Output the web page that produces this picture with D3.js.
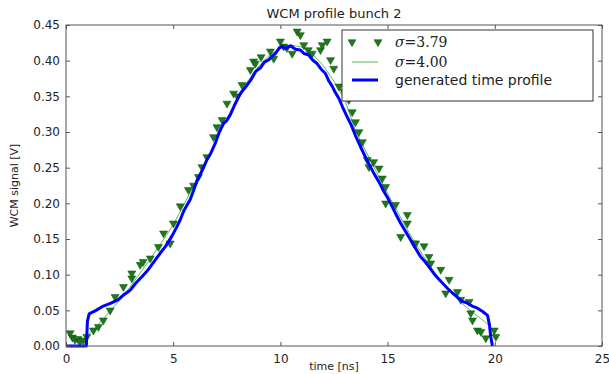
<!DOCTYPE html>
<meta charset="utf-8">
<script src="https://d3js.org/d3.v7.min.js"></script>
<style>
  body { margin: 0; background: #fff; }
  text { font-family: "DejaVu Sans", sans-serif; fill: #222; }
</style>
<div id="chart"></div>
<script>
// measured WCM samples (time ns, signal V)
var wcmTime = [0.19,0.3,0.42,0.55,0.65,0.81,0.97,1.28,1.51,1.74,2.06,2.29,2.68,3.07,3.07,3.46,3.6,3.93,4.31,4.55,4.86,5.01,5.33,5.71,5.95,6.18,6.34,6.57,6.88,7.04,7.28,7.51,7.82,8.0,8.21,8.6,8.75,8.83,9.1,9.53,9.69,10.0,10.15,10.3,10.55,10.78,10.93,11.09,11.3,11.48,11.87,11.95,12.18,12.34,12.49,12.73,12.96,13.19,13.35,13.5,13.66,13.82,14.05,14.13,14.35,14.6,14.75,14.91,14.91,15.37,15.61,15.92,15.92,16.23,16.31,16.7,16.93,17.01,17.48,17.71,17.87,18.26,18.41,18.8,18.88,18.96,19.19,19.35,19.58,19.97,20.05];
var wcmSignal = [0.018,0.012,0.009,0.01,0.006,0.008,0.013,0.022,0.027,0.036,0.05,0.069,0.083,0.095,0.102,0.114,0.118,0.123,0.139,0.158,0.144,0.172,0.196,0.219,0.225,0.237,0.251,0.265,0.293,0.307,0.317,0.34,0.354,0.35,0.366,0.387,0.399,0.396,0.405,0.413,0.403,0.427,0.42,0.418,0.41,0.441,0.436,0.422,0.415,0.41,0.415,0.422,0.427,0.401,0.389,0.364,0.357,0.345,0.328,0.314,0.3,0.286,0.261,0.251,0.258,0.249,0.235,0.223,0.2,0.198,0.153,0.184,0.172,0.144,0.144,0.14,0.125,0.116,0.107,0.074,0.093,0.076,0.065,0.062,0.046,0.036,0.022,0.02,0.011,0.022,0.013];

// fit with sigma = 4.00
var fitTime = [1.0,1.5,2.0,2.5,3.0,3.5,4.0,4.5,5.0,5.5,6.0,6.5,7.0,7.5,8.0,8.5,9.0,9.5,10.0,10.5,11.0,11.5,12.0,12.5,13.0,13.5,14.0,14.5,15.0,15.5,16.0,16.5,17.0,17.5,18.0,18.5,19.0,19.5,19.8];
var fitSignal = [0.015,0.03,0.047,0.064,0.083,0.104,0.125,0.147,0.17,0.198,0.227,0.257,0.288,0.318,0.347,0.372,0.393,0.408,0.418,0.422,0.419,0.409,0.393,0.371,0.345,0.302,0.272,0.243,0.214,0.186,0.159,0.134,0.111,0.091,0.074,0.059,0.046,0.035,0.027];

// generated time profile
var genTime = [0,0.95,1.0,1.08,1.4,1.74,2.1,2.44,2.7,2.99,3.25,3.54,3.75,3.93,4.15,4.39,4.65,4.94,5.15,5.33,5.5,5.79,5.95,6.11,6.35,6.57,6.75,6.96,7.15,7.35,7.5,7.66,7.9,8.13,8.35,8.6,8.85,9.07,9.25,9.45,9.6,9.77,9.95,10.08,10.25,10.47,10.7,10.93,11.1,11.32,11.5,11.71,11.9,12.1,12.25,12.42,12.55,12.73,12.9,13.12,13.3,13.5,13.74,13.95,14.15,14.36,14.6,14.8,14.98,15.2,15.4,15.61,15.85,16.07,16.3,16.54,16.75,16.93,17.2,17.5,17.79,18.0,18.2,18.45,18.72,18.95,19.19,19.45,19.66,19.75,19.81,19.89];
var genSignal = [0,0,0.035,0.045,0.05,0.056,0.06,0.065,0.072,0.078,0.088,0.097,0.104,0.111,0.12,0.13,0.14,0.154,0.166,0.177,0.19,0.205,0.218,0.232,0.246,0.261,0.27,0.284,0.3,0.312,0.316,0.324,0.34,0.354,0.362,0.372,0.385,0.39,0.398,0.401,0.406,0.41,0.418,0.42,0.417,0.421,0.416,0.415,0.41,0.408,0.401,0.396,0.388,0.382,0.372,0.364,0.356,0.347,0.335,0.321,0.31,0.295,0.279,0.266,0.254,0.242,0.23,0.218,0.209,0.196,0.184,0.172,0.16,0.149,0.137,0.125,0.118,0.111,0.1,0.09,0.081,0.075,0.07,0.063,0.06,0.056,0.053,0.048,0.043,0.03,0.013,0];

var xTicks = [0,5,10,15,20,25];
var yTicks = [0,0.05,0.1,0.15,0.2,0.25,0.3,0.35,0.4,0.45];
var legendLabels = ["3.79", "4.00", "generated time profile"];

var W = 609, H = 374;
var margin = {top: 25, right: 7, bottom: 28, left: 66},
    width = W - margin.left - margin.right,
    height = H - margin.top - margin.bottom;

var svg = d3.select("#chart").append("svg")
    .attr("width", W).attr("height", H)
  .append("g")
    .attr("transform", "translate(" + margin.left + "," + margin.top + ")");

var x = d3.scaleLinear().domain([0, 25]).range([0, width]);
var y = d3.scaleLinear().domain([0, 0.45]).range([height, 0]);

var green = "#1b7a1b", fitGreen = "#5cb85c", blue = "#0000ff";

svg.append("clipPath").attr("id", "clip")
  .append("rect").attr("x", 0).attr("y", -2).attr("width", width).attr("height", height + 4);

var plot = svg.append("g").attr("clip-path", "url(#clip)");

// fit line
var fitLine = d3.line().x(function(d, i) { return x(fitTime[i]); }).y(function(d) { return y(d); });
plot.append("path").datum(fitSignal)
  .attr("d", fitLine).attr("fill", "none")
  .attr("stroke", fitGreen).attr("stroke-width", 1);

// measured triangles
var tri = d3.symbol().type(d3.symbolTriangle).size(28);
plot.append("g").selectAll("path")
  .data(wcmSignal)
  .enter().append("path")
    .attr("d", tri)
    .attr("transform", function(d, i) { return "translate(" + x(wcmTime[i]) + "," + y(d) + ") rotate(180)"; })
    .attr("fill", green)
    .attr("stroke", "#0f4f0f").attr("stroke-width", 0.5);

// generated profile
var genLine = d3.line().x(function(d, i) { return x(genTime[i]); }).y(function(d) { return y(d); });
plot.append("path").datum(genSignal)
  .attr("d", genLine).attr("fill", "none")
  .attr("stroke", blue).attr("stroke-width", 3)
  .attr("stroke-linejoin", "round");

// axes (matplotlib style inward ticks on all sides)
var axCol = "#555";
function styleAxis(g) {
  g.select(".domain").remove();
  g.selectAll(".tick line").attr("stroke", axCol);
  g.selectAll(".tick text").style("font-size", "12px").attr("fill", "#333");
}
svg.append("g").attr("transform", "translate(0," + height + ")")
  .call(d3.axisBottom(x).tickValues(xTicks).tickSize(-4).tickPadding(8).tickFormat(d3.format("d")))
  .call(styleAxis);
svg.append("g")
  .call(d3.axisTop(x).tickValues(xTicks).tickSize(-4).tickFormat(""))
  .call(styleAxis);
svg.append("g")
  .call(d3.axisLeft(y).tickValues(yTicks).tickSize(-4).tickPadding(6).tickFormat(d3.format(".2f")))
  .call(styleAxis);
svg.append("g").attr("transform", "translate(" + width + ",0)")
  .call(d3.axisRight(y).tickValues(yTicks).tickSize(-4).tickFormat(""))
  .call(styleAxis);

svg.append("rect").attr("width", width).attr("height", height)
  .attr("fill", "none").attr("stroke", axCol).attr("stroke-width", 1);

// labels
svg.append("text").attr("x", width / 2).attr("y", -7)
  .attr("text-anchor", "middle").style("font-size", "13px").text("WCM profile bunch 2");
svg.append("text").attr("x", width / 2).attr("y", height + 24)
  .attr("text-anchor", "middle").style("font-size", "11px").text("time [ns]");
svg.append("text").attr("transform", "rotate(-90)")
  .attr("x", -height / 2).attr("y", -48)
  .attr("text-anchor", "middle").style("font-size", "11px").text("WCM signal [V]");

// legend
var lg = svg.append("g").attr("transform", "translate(276,5)");
lg.append("rect").attr("width", 251).attr("height", 71)
  .attr("fill", "#fff").attr("stroke", "#333").attr("stroke-width", 1);
var rows = [12, 32, 50];
[10, 36].forEach(function(px) {
  lg.append("path").attr("d", tri)
    .attr("transform", "translate(" + px + "," + rows[0] + ") rotate(180)")
    .attr("fill", green).attr("stroke", "#0f4f0f").attr("stroke-width", 0.5);
});
lg.append("line").attr("x1", 10).attr("x2", 36).attr("y1", rows[1]).attr("y2", rows[1])
  .attr("stroke", fitGreen).attr("stroke-width", 1);
lg.append("line").attr("x1", 10).attr("x2", 36).attr("y1", rows[2]).attr("y2", rows[2])
  .attr("stroke", blue).attr("stroke-width", 3);
legendLabels.forEach(function(t, i) {
  var tx = lg.append("text").attr("x", 53).attr("y", rows[i] + 5).style("font-size", "14px");
  if (i < 2) {
    tx.style("font-family", "'DejaVu Serif', serif");
    tx.append("tspan").style("font-style", "italic").text("σ");
    tx.append("tspan").text("=" + t);
  } else {
    tx.text(t);
  }
});
</script>
